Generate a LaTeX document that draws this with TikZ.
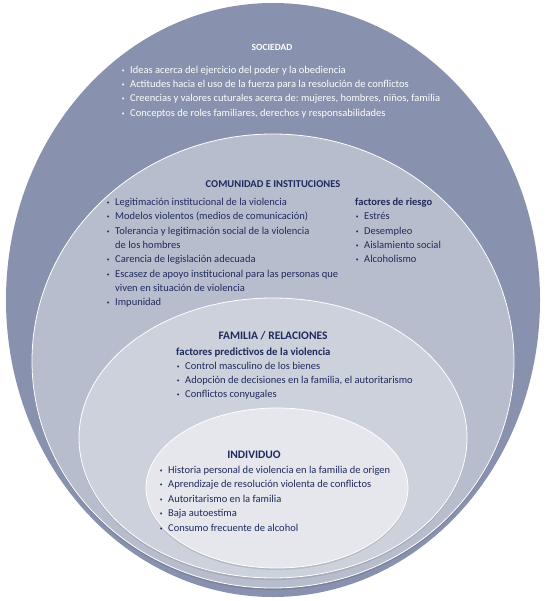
\documentclass[tikz,border=0pt]{standalone}
\usepackage{fontspec}
\setmainfont{Carlito}
\frenchspacing
\definecolor{sociedad}{HTML}{8891AD}
\definecolor{comunidad}{HTML}{B8BDCD}
\definecolor{familia}{HTML}{CDD1DC}
\definecolor{individuo}{HTML}{E5E7ED}
\definecolor{tinta}{HTML}{1F2A5C}
\newcommand{\vineta}{\llap{\raisebox{1pt}{\fontsize{5.5}{5}\selectfont\textbullet}\hspace{5.5pt}}}
\tikzset{capa/.style={draw=white, line width=0.8pt},
 sombra/.style={fill=black, opacity=0.10},
 titulo/.style={font=\fontsize{10.5}{12}\selectfont\bfseries, text=tinta, inner sep=0pt, anchor=base},
 renglon/.style={font=\fontsize{10.5}{12}\selectfont, text=tinta, inner sep=0pt, anchor=base west}}

\begin{document}
\begin{tikzpicture}[x=1pt,y=-1pt]
 \useasboundingbox (0,0) rectangle (546,601);

 % capas
 \fill[sociedad] (273,300) ellipse (267 and 297);
 \fill[sombra] (273,363) ellipse (241 and 227);
 \filldraw[capa,fill=comunidad] (273,361) ellipse (241 and 227);
 \fill[sombra] (273,440) ellipse (194 and 140);
 \filldraw[capa,fill=familia] (273,438) ellipse (194 and 140);
 \fill[sombra] (277,490) ellipse (131 and 80);
 \filldraw[capa,fill=individuo] (277,488) ellipse (131 and 80);

 % sociedad
 \node[titulo,text=white,font=\fontsize{9.5}{12}\selectfont\bfseries] (tsoc) at (272,51) {SOCIEDAD};
 \foreach \t [count=\i from 0] in {Ideas acerca del ejercicio del poder y la obediencia,
   Actitudes hacia el uso de la fuerza para la resolución de conflictos,
   {Creencias y valores cuturales acerca de: mujeres, hombres, niños, familia},
   {Conceptos de roles familiares, derechos y responsabilidades}}
   \node[renglon,text=white] (soc\i) at (130,73.5+14.2*\i) {\vineta\t};

 % comunidad e instituciones
 \node[titulo] (tcom) at (273,188) {COMUNIDAD E INSTITUCIONES};
 \foreach \t [count=\i from 0] in {\vineta Legitimación institucional de la violencia,
   {\vineta Modelos violentos (medios de comunicación)},
   \vineta Tolerancia y legitimación social de la violencia,
   de los hombres,
   \vineta Carencia de legislación adecuada,
   \vineta Escasez de apoyo institucional para las personas que,
   viven en situación de violencia,
   \vineta Impunidad}
   \node[renglon] (com\i) at (115,205.5+14.3*\i) {\t};
 \node[renglon,font=\fontsize{10.5}{12}\selectfont\bfseries] (riesgo) at (355,205.5) {factores de riesgo};
 \foreach \t [count=\i] in {Estrés, Desempleo, Aislamiento social, Alcoholismo}
   \node[renglon] (rie\i) at (364,205.5+14.3*\i) {\vineta\t};

 % familia / relaciones
 \node[titulo,font=\fontsize{11.5}{12}\selectfont\bfseries] (tfam) at (273,339) {FAMILIA / RELACIONES};
 \node[renglon,font=\fontsize{10.8}{12}\selectfont\bfseries] (predic) at (176,355) {factores predictivos de la violencia};
 \foreach \t [count=\i from 0] in {Control masculino de los bienes,
   {Adopción de decisiones en la familia, el autoritarismo},
   Conflictos conyugales}
   \node[renglon] (fam\i) at (185,369+14.3*\i) {\vineta\t};

 % individuo
 \node[titulo,font=\fontsize{11.5}{12}\selectfont\bfseries] (tind) at (254,458) {INDIVIDUO};
 \foreach \t [count=\i from 0] in {Historia personal de violencia en la familia de origen,
   Aprendizaje de resolución violenta de conflictos,
   Autoritarismo en la familia,
   Baja autoestima,
   Consumo frecuente de alcohol}
   \node[renglon] (ind\i) at (168,473.5+14.4*\i) {\vineta\t};
\end{tikzpicture}
\end{document}
